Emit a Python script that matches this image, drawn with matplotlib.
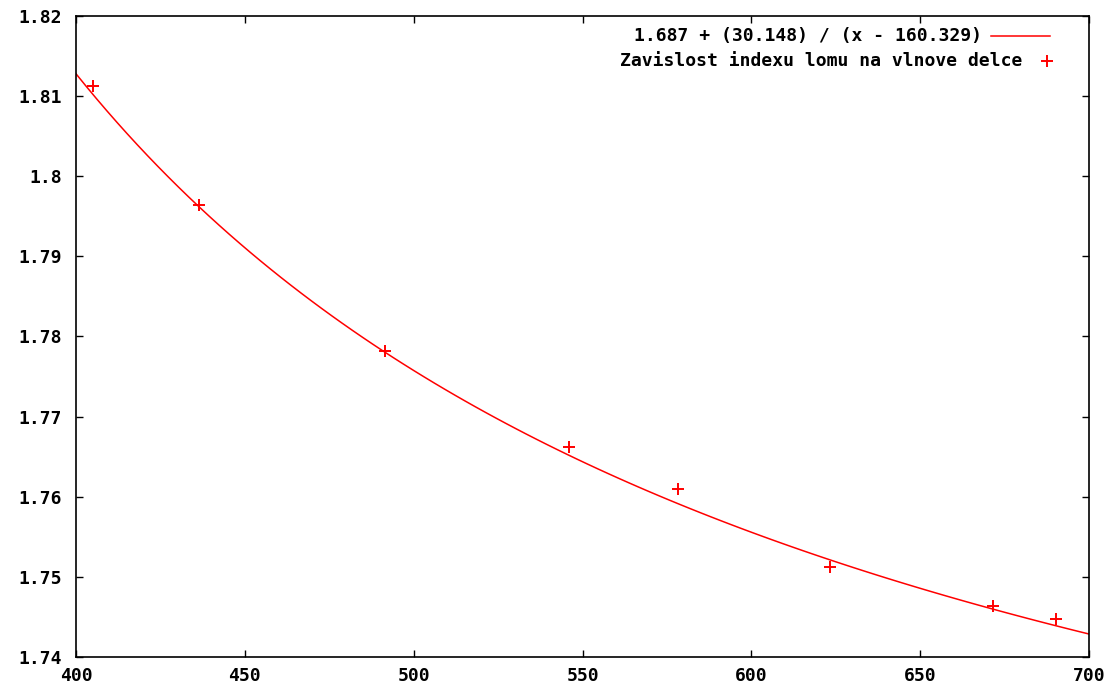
import numpy as np
import matplotlib
matplotlib.use('Agg')
import matplotlib.pyplot as plt

# Namerene body (vlnova delka, index lomu)
vlnova_delka = [405.0, 436.3, 491.6, 546.1, 578.3, 623.2, 671.6, 690.2]
index_lomu = [1.8113, 1.7964, 1.7782, 1.7662, 1.7610, 1.7512, 1.7464, 1.7447]

# Parametry fitu n = a + b / (x - c)
fit_a = 1.687
fit_b = 30.148
fit_c = 160.329

x_ticks = [400, 450, 500, 550, 600, 650, 700]
y_ticks = [1.74, 1.75, 1.76, 1.77, 1.78, 1.79, 1.80, 1.81, 1.82]
y_tick_labels = ['1.74', '1.75', '1.76', '1.77', '1.78', '1.79', '1.8', '1.81', '1.82']

fit_label = '1.687 + (30.148) / (x - 160.329)'
data_label = 'Zavislost indexu lomu na vlnove delce'

plt.rcParams['font.family'] = ['DejaVu Sans Mono', 'DejaVu Sans']
plt.rcParams['font.weight'] = 'bold'

fig = plt.figure(figsize=(11.14, 6.83), dpi=100)
ax = fig.add_axes([0.0682, 0.0381, 0.9094, 0.9385])

x = np.linspace(400, 700, 100)
ax.plot(x, fit_a + fit_b / (x - fit_c), c='red', lw=1.1)
ax.plot(vlnova_delka, index_lomu, ls='none', marker='+', ms=9, mew=1.4, c='red')

ax.set_xlim(400, 700)
ax.set_ylim(1.74, 1.82)
ax.set_xticks(x_ticks)
ax.set_yticks(y_ticks)
ax.set_yticklabels(y_tick_labels)
ax.tick_params(direction='in', length=5, width=1.0, top=True, right=True,
               labelsize=13)
ax.tick_params(axis='y', pad=10)
ax.tick_params(axis='x', pad=7)
for s in ax.spines.values():
    s.set_linewidth(1.2)

# klic (legenda) ve stylu gnuplotu
tr = ax.transAxes
ax.text(0.8944, 0.9688, fit_label, transform=tr, ha='right', va='center', fontsize=13)
ax.plot([0.9033, 0.9615], [0.9688, 0.9688], transform=tr, c='red', lw=1.1)
ax.text(0.9339, 0.9298, data_label, transform=tr, ha='right', va='center', fontsize=13)
ax.plot([0.9585], [0.9298], transform=tr, ls='none', marker='+', ms=9, mew=1.4, c='red')

fig.savefig('out.png', dpi=100)
